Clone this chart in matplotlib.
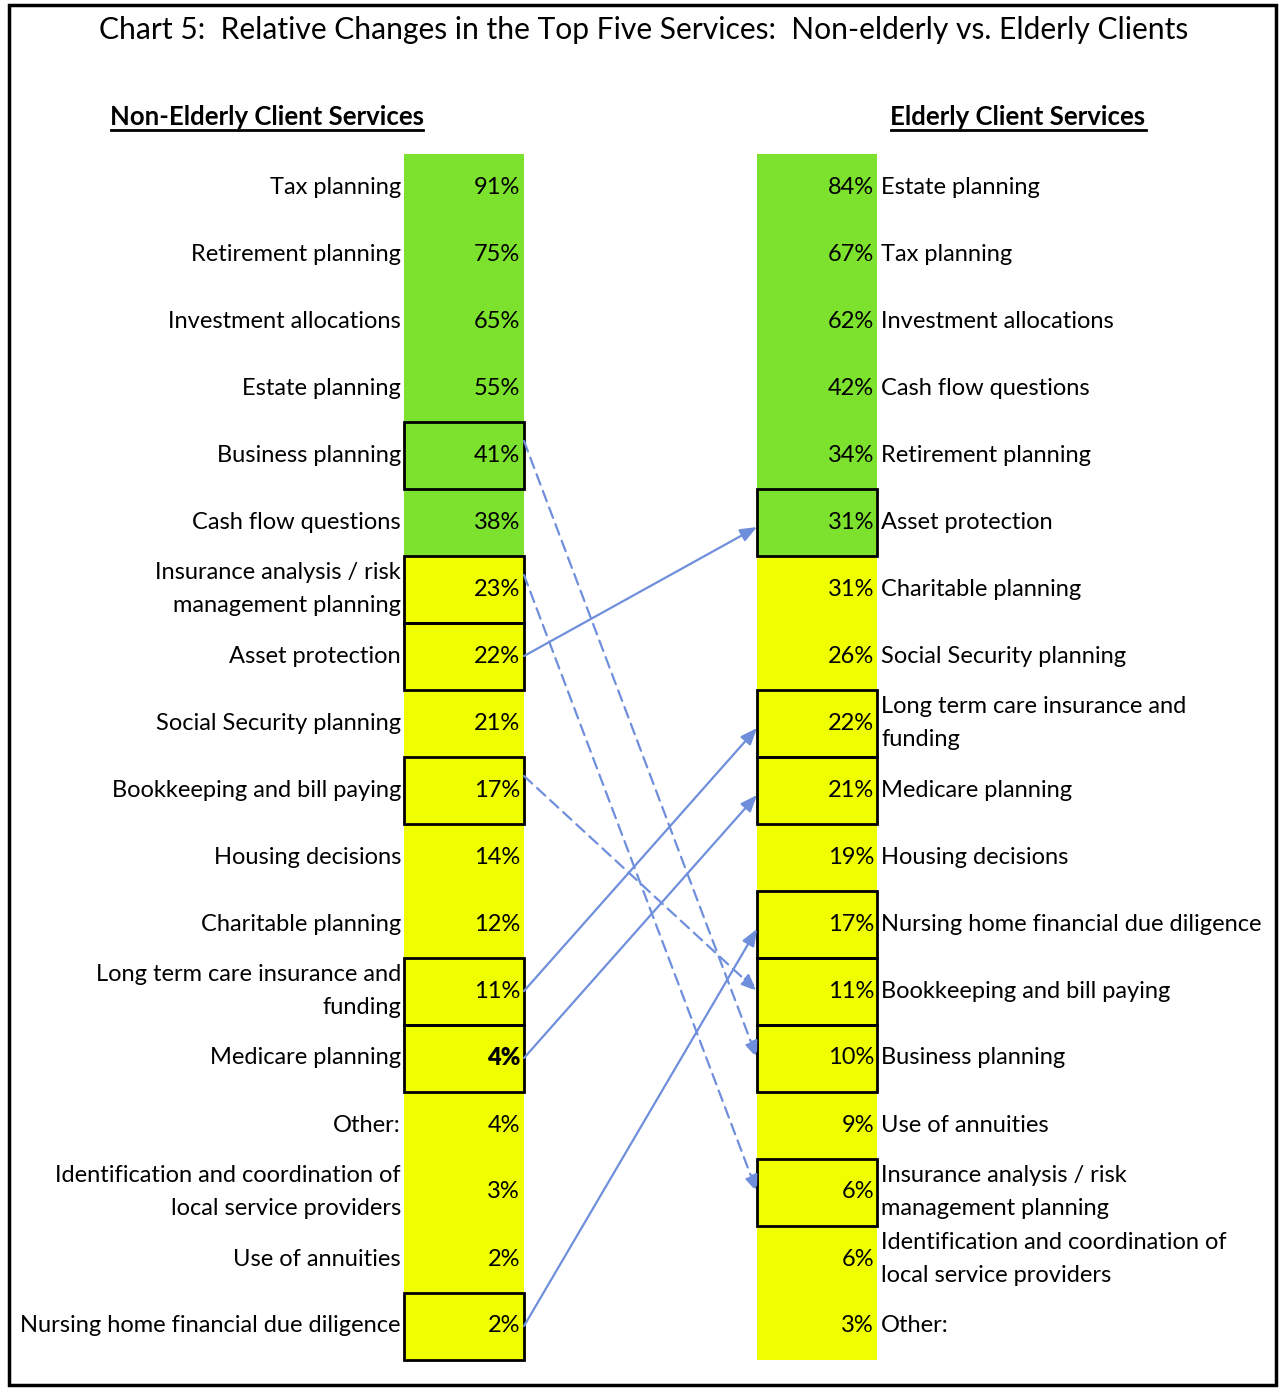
import numpy as np
import matplotlib.pyplot as plt
from matplotlib.patches import Rectangle

plt.rcParams['font.family'] = ['Lato', 'DejaVu Sans']

# left column (non-elderly)
left_labels = ["Tax planning", "Retirement planning", "Investment allocations",
               "Estate planning", "Business planning", "Cash flow questions",
               "Insurance analysis / risk\nmanagement planning", "Asset protection",
               "Social Security planning", "Bookkeeping and bill paying",
               "Housing decisions", "Charitable planning",
               "Long term care insurance and\nfunding", "Medicare planning",
               "Other:", "Identification and coordination of\nlocal service providers",
               "Use of annuities", "Nursing home financial due diligence"]
left_vals = [91, 75, 65, 55, 41, 38, 23, 22, 21, 17, 14, 12, 11, 4, 4, 3, 2, 2]

# right column (elderly)
right_labels = ["Estate planning", "Tax planning", "Investment allocations",
                "Cash flow questions", "Retirement planning", "Asset protection",
                "Charitable planning", "Social Security planning",
                "Long term care insurance and\nfunding", "Medicare planning",
                "Housing decisions", "Nursing home financial due diligence",
                "Bookkeeping and bill paying", "Business planning",
                "Use of annuities", "Insurance analysis / risk\nmanagement planning",
                "Identification and coordination of\nlocal service providers", "Other:"]
right_vals = [84, 67, 62, 42, 34, 31, 31, 26, 22, 21, 19, 17, 11, 10, 9, 6, 6, 3]

n_green = 6
# services whose rank changed a lot: up = solid arrow, down = dashed
moved = ["Asset protection", "Long term care insurance and\nfunding", "Medicare planning",
         "Nursing home financial due diligence", "Business planning",
         "Insurance analysis / risk\nmanagement planning", "Bookkeeping and bill paying"]

GREEN = "#7ce22e"
YELLOW = "#efff00"
ARROW = "#6f8fdc"
FS = 17

fig = plt.figure(figsize=(12.79, 13.88), dpi=100)
ax = fig.add_axes([0, 0, 1, 1])
ax.set_xlim(0, 1279)
ax.set_ylim(1388, 0)
ax.axis('off')

y0, dy = 187, 67
bw = 120
lx, rx = 404, 757
rows = y0 + dy * np.arange(len(left_vals))
colors = [GREEN if i < n_green else YELLOW for i in range(len(rows))]

ax.barh(rows, bw, height=dy, left=lx, color=colors, edgecolor='none')
ax.barh(rows, bw, height=dy, left=rx, color=colors, edgecolor='none')

for i, (lab, v) in enumerate(zip(left_labels, left_vals)):
    ax.text(lx - 3, rows[i], lab, ha='right', va='center', fontsize=FS,
            linespacing=1.75)
    ax.text(lx + bw - 4, rows[i], f"{v}%", ha='right', va='center', fontsize=FS,
            fontweight='heavy' if lab == "Medicare planning" else 'normal')
for i, (lab, v) in enumerate(zip(right_labels, right_vals)):
    ax.text(rx + bw + 4, rows[i], lab, ha='left', va='center', fontsize=FS,
            linespacing=1.75)
    ax.text(rx + bw - 3, rows[i], f"{v}%", ha='right', va='center', fontsize=FS)

for name in moved:
    li = left_labels.index(name)
    ri = right_labels.index(name)
    for x, i in ((lx, li), (rx, ri)):
        ax.add_patch(Rectangle((x, rows[i] - dy / 2), bw, dy, fill=False,
                               edgecolor='black', lw=2, zorder=3))
    up = ri < li
    ax.annotate("", xy=(rx, rows[ri] + (5 if up else 0)),
                xytext=(lx + bw, rows[li] - (0 if up else 14)),
                arrowprops=dict(arrowstyle='-|>,head_length=1.0,head_width=0.4',
                                color=ARROW, lw=1.6,
                                linestyle='-' if up else (0, (5, 3)),
                                shrinkA=0, shrinkB=0), zorder=4)

ax.text(644, 30, "Chart 5:  Relative Changes in the Top Five Services:  Non-elderly vs. Elderly Clients",
        ha='center', va='center', fontsize=21.6)
ax.text(267, 117, "Non-Elderly Client Services", ha='center', va='center',
        fontsize=18.5, fontweight='bold')
ax.text(1018, 117, "Elderly Client Services", ha='center', va='center',
        fontsize=18.5, fontweight='bold')
ax.plot([111, 423], [130, 130], color='black', lw=2)
ax.plot([891, 1146], [130, 130], color='black', lw=2)

ax.add_patch(Rectangle((9, 5), 1267, 1380, fill=False, edgecolor='black', lw=2.5))

fig.savefig("out.png", dpi=100)
